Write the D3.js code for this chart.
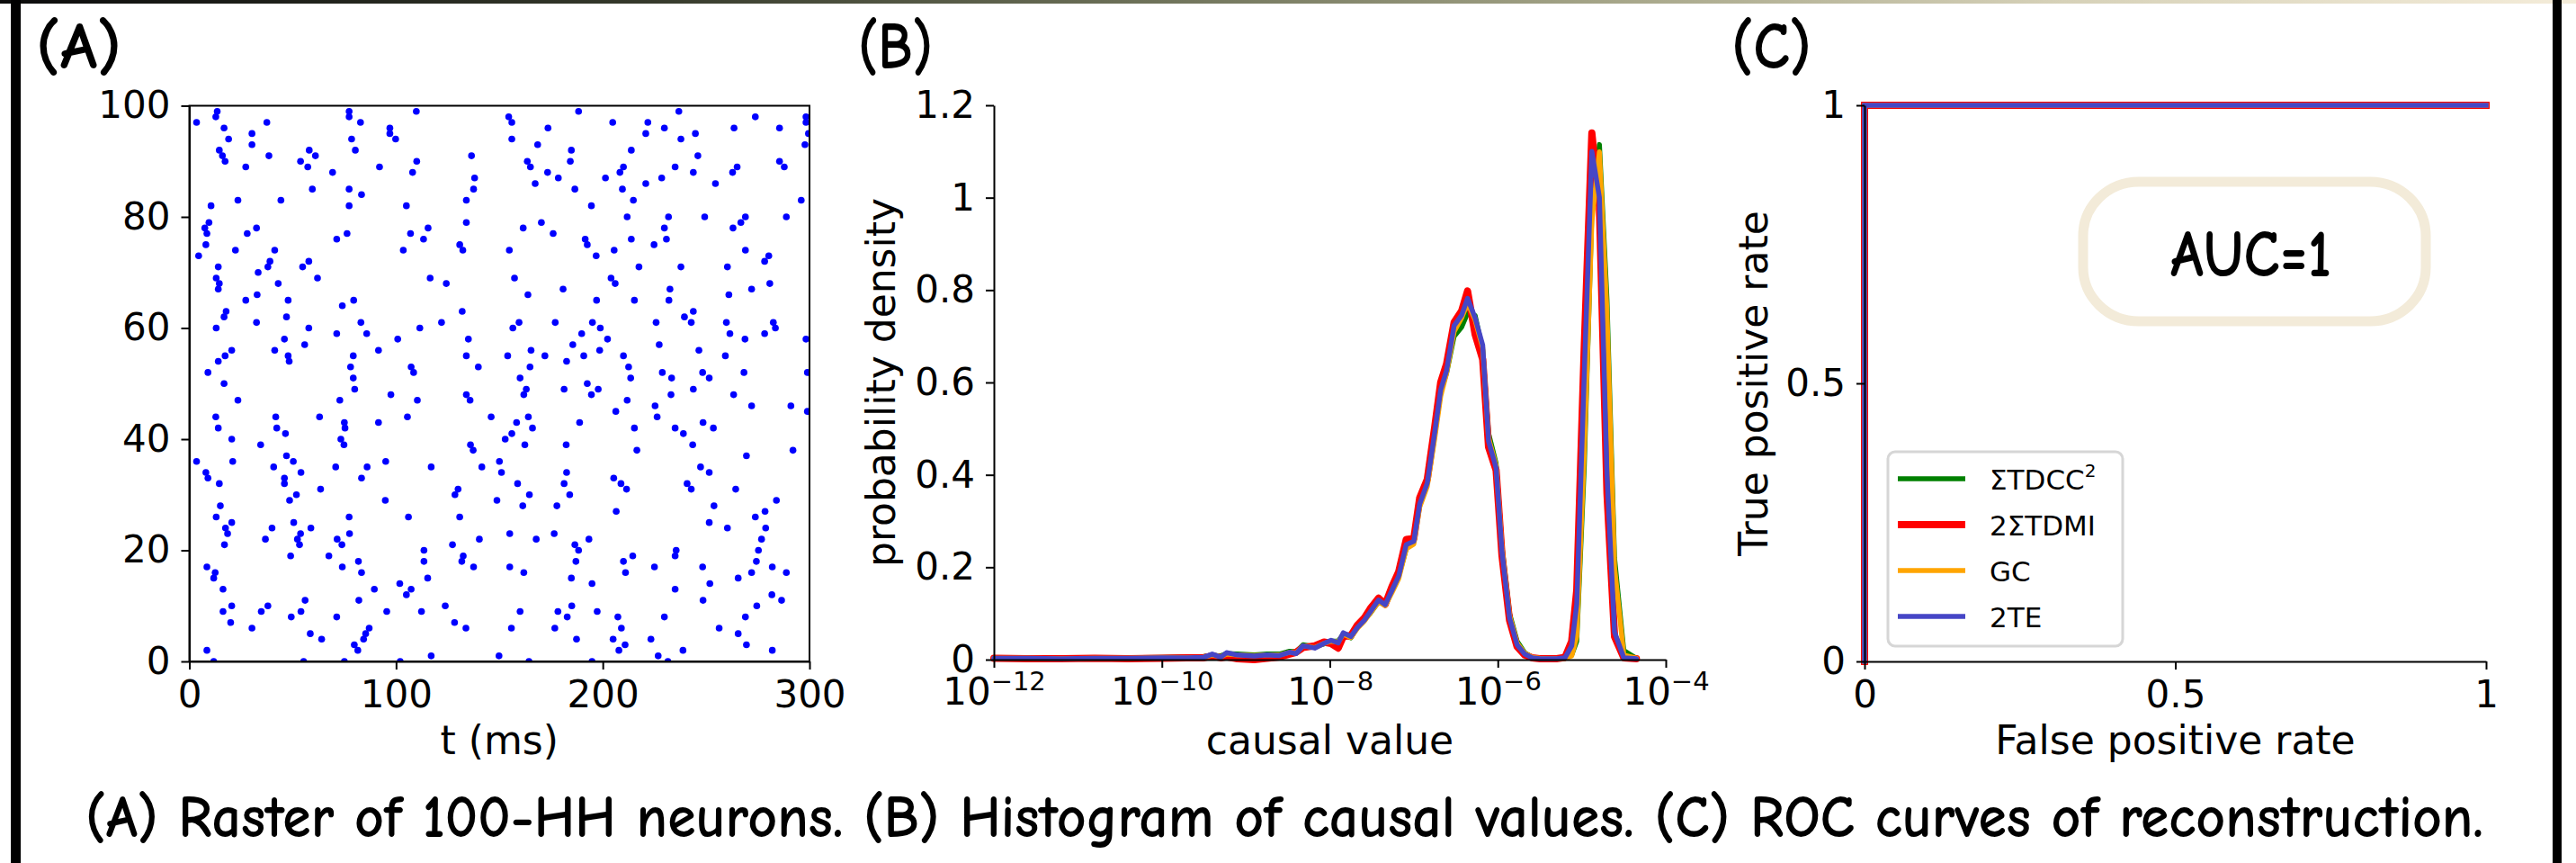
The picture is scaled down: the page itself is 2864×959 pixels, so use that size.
<!DOCTYPE html>
<html>
<head>
<meta charset="utf-8">
<script src="https://cdn.jsdelivr.net/npm/d3@7"></script>
<style>
  html, body { margin: 0; padding: 0; background: #fff; }
  svg { display: block; }
  .tick text { font-family: "DejaVu Sans", sans-serif; font-size: 42px; fill: #000; }
  .tick line { stroke: #000; stroke-width: 2; }
  .domain { stroke: #000; stroke-width: 2; }
  .lbl { font-family: "DejaVu Sans", sans-serif; font-size: 44px; fill: #000; }
  .comic { font-family: "Comic Sans MS", "Comic Neue", "Noto Sans", sans-serif; font-weight: 700; fill: #000; }
</style>
</head>
<body>
<svg id="fig" width="2864" height="959"></svg>
<script>
// ---- dados ----
// (A) tempos de disparo (ms) por neurônio 0..99
const spikeTimes = [
  [11.8, 55.3, 75, 102, 164.3, 194.8, 231.5],
  [117, 149.8, 226.8],
  [8.5, 81.5, 207.8, 238.8, 282],
  [79.8, 210.8, 269.5],
  [64, 84.3, 187.3, 205, 223.3],
  [58.5, 85.3, 265.5],
  [30.3, 87, 133.8, 155.8, 176.8, 209, 256.3],
  [20, 128.3],
  [49.3, 71.3, 182.8, 207.3, 229.8, 269],
  [16.3, 34.8, 54, 95.5, 112.3, 160, 178.3, 197.3],
  [20.5, 38, 123.8, 185, 274.5],
  [56, 82, 248.5, 286.5],
  [105, 281.8],
  [16.3, 89.5, 107.3, 235],
  [101.8, 194.8, 251.8],
  [11.8, 115.3, 184.8, 265.5],
  [12.5, 83.3, 161.8, 211, 272, 288.8],
  [8.5, 74, 137.5, 155, 225, 248.3, 282],
  [81.8, 113.5, 131.8, 187, 210, 274.3],
  [49, 67.5, 132.5, 214.5, 235],
  [113.5, 188.3, 235.5, 275.3],
  [17, 53.3, 73.8, 127.3, 186.5],
  [36.8, 52.3, 71.5, 140.3, 167.8, 193.3, 276.8],
  [18.5, 53.8, 77.5, 155, 176.5],
  [17.5, 40, 58.8, 260.3, 278.8],
  [20.5, 50.5, 251.5],
  [13, 77.3, 106, 130.8, 273.8],
  [206.5, 278.5],
  [15, 161.3, 177.8, 253.8],
  [48.5, 94.8, 148.8, 284],
  [51.8, 128.5, 164.5, 184],
  [63.5, 130, 211.5, 242.8, 264.3],
  [14.5, 46, 158.8, 181.3, 208.8, 240.8],
  [9, 46, 83.3, 205.3],
  [8, 54, 151, 182.5, 251.5],
  [40.8, 70.8, 86, 117, 141.5, 247.3],
  [3.5, 21, 50.3, 95, 150],
  [47, 269.5],
  [137.3, 216.5, 292],
  [34.5, 74.8, 136, 162.3, 182.3, 243.5],
  [20.5, 73.3, 152.8],
  [46.5, 156, 239],
  [14, 42.3, 75.3, 166, 215.3, 235, 253.5],
  [75, 91.5, 158.3, 188.8, 248.5],
  [12.8, 41.8, 63, 105.5, 146, 164, 226.3],
  [206.3, 299],
  [225.3, 272, 291],
  [23.5, 72.8, 110.3, 135.8, 211.8],
  [97.5, 134, 161.8, 194.5, 233, 263.3],
  [80, 163, 181.3, 197.8, 243.8],
  [16.8, 192.5],
  [79.3, 160, 213.5, 233.3, 251.5],
  [9, 108.5, 228.8, 248.3, 268.3, 299],
  [78, 107.3, 139.8, 164.8, 212.5],
  [14, 48.3, 182.5],
  [17.3, 47.8, 79.3, 134, 154, 172, 190.8, 210, 259.3],
  [20.5, 41.3, 91.5, 165.3, 198.5, 246.5],
  [55.8, 185.5, 227.3],
  [46, 100.8, 135, 202.3, 268.8, 298.3],
  [71.3, 85.8, 189.8, 261.5, 278.3],
  [13, 57.8, 111.5, 156.5, 198.8, 283.5],
  [32.5, 83, 122, 159.5, 177, 195, 225.8, 242.8, 259.8, 282.5],
  [16.8, 47, 239.5],
  [17.8, 132, 243.8],
  [74],
  [27.3, 47.8, 79.5, 197, 215.3, 232],
  [32.8, 163.8, 261],
  [14, 180.8, 232.5, 272],
  [14.5, 43, 124.3, 206, 280.8],
  [13, 62, 116.5, 157.3, 204],
  [33.3],
  [14, 38, 54.8, 217.5, 237.8, 260.3],
  [39, 57.8, 278.3],
  [4.5, 196.8, 280.3],
  [22.3, 41.3, 103.5, 132.3, 154.8, 205.5, 269],
  [8, 130.8, 192.5, 224.8],
  [71.3, 113.3, 191.5, 213.8, 230.8],
  [8.5, 28, 76.3, 107, 176],
  [7.5, 32.5, 115.5, 161.5, 229.8, 263],
  [9.5, 134, 170.3, 266.8],
  [211.8, 231.8, 249.3, 269, 288.8],
  [],
  [10.5, 77.3, 105, 194.5],
  [23.5, 44.3, 134, 214.8, 296],
  [83.3],
  [59.5, 77.3, 137.5, 186.5, 209.5],
  [167.3, 220.8, 254.5],
  [138, 178.5, 201.3, 228.5],
  [69.3, 108, 173.3, 208.3, 243.8, 262.8],
  [27.3, 57.3, 92, 165, 210, 235, 265, 287.8],
  [17.3, 53.8, 110, 163.5, 184.3, 285.5],
  [16, 38.5, 61, 136.5, 246],
  [14.5, 58, 80.3, 184.8, 213.8],
  [30.3, 168.5, 297.8],
  [19, 78.5, 99.8, 156, 237.8],
  [30.3, 97, 220.8, 244.8, 299.5],
  [16.8, 97, 173.5, 229.8, 263.5, 285.5],
  [3.5, 37.5, 82.8, 156, 204.8, 221.8, 298.3],
  [12.8, 77.3, 154.5, 273.8, 298.3],
  [13.5, 77.3, 109.8, 188.3, 236.8]
];
const rasterTicksX = [0, 100, 200, 300];
const rasterTicksY = [0, 20, 40, 60, 80, 100];

// (B) histogramas: posição dos bins em log10 e densidades
const binLog10 = [-12.0, -11.6, -11.2, -10.8, -10.4, -10.0, -9.7, -9.5, -9.4, -9.3, -9.23, -9.1, -8.9, -8.75, -8.6, -8.48, -8.4, -8.32, -8.18, -8.07, -7.985, -7.9, -7.84, -7.75, -7.67, -7.59, -7.52, -7.42, -7.34, -7.26, -7.18, -7.09, -7.0, -6.93, -6.84, -6.75, -6.68, -6.61, -6.52, -6.43, -6.36, -6.27, -6.18, -6.11, -6.02, -5.95, -5.86, -5.77, -5.68, -5.59, -5.5, -5.4, -5.3, -5.2, -5.12, -5.06, -4.97, -4.88, -4.79, -4.70, -4.61, -4.5, -4.35];
const densTDCC = [0.004, 0.004, 0.003, 0.004, 0.004, 0.005, 0.006, 0.007, 0.01, 0.008, 0.013, 0.012, 0.01, 0.012, 0.012, 0.018, 0.017, 0.032, 0.028, 0.034, 0.04, 0.04, 0.055, 0.047, 0.072, 0.088, 0.1, 0.125, 0.118, 0.155, 0.18, 0.24, 0.258, 0.335, 0.385, 0.49, 0.58, 0.62, 0.7, 0.72, 0.75, 0.745, 0.67, 0.49, 0.425, 0.245, 0.1, 0.04, 0.015, 0.005, 0.003, 0.002, 0.002, 0.003, 0.01, 0.04, 0.42, 0.97, 1.115, 0.78, 0.22, 0.02, 0.003];
const densTDMI = [0.003, 0.002, 0.002, 0.003, 0.002, 0.003, 0.004, 0.004, 0.008, 0.004, 0.006, 0.002, 0.0, 0.003, 0.006, 0.012, 0.016, 0.026, 0.03, 0.038, 0.035, 0.025, 0.05, 0.052, 0.075, 0.09, 0.11, 0.133, 0.12, 0.158, 0.19, 0.26, 0.262, 0.35, 0.39, 0.505, 0.6, 0.64, 0.73, 0.755, 0.798, 0.704, 0.65, 0.46, 0.41, 0.225, 0.085, 0.028, 0.01, 0.004, 0.002, 0.002, 0.002, 0.005, 0.04, 0.15, 0.68, 1.14, 0.98, 0.36, 0.05, 0.004, 0.002];
const densGC = [0.003, 0.003, 0.002, 0.003, 0.003, 0.004, 0.004, 0.005, 0.01, 0.006, 0.012, 0.01, 0.009, 0.01, 0.01, 0.016, 0.014, 0.03, 0.026, 0.035, 0.04, 0.038, 0.055, 0.048, 0.068, 0.083, 0.1, 0.125, 0.117, 0.145, 0.175, 0.24, 0.25, 0.33, 0.375, 0.48, 0.57, 0.62, 0.71, 0.74, 0.772, 0.735, 0.675, 0.48, 0.42, 0.24, 0.095, 0.036, 0.014, 0.005, 0.003, 0.002, 0.002, 0.003, 0.008, 0.05, 0.45, 0.95, 1.099, 0.75, 0.2, 0.01, 0.003];
const dens2TE = [0.003, 0.003, 0.002, 0.003, 0.003, 0.004, 0.004, 0.005, 0.012, 0.005, 0.015, 0.01, 0.008, 0.01, 0.009, 0.016, 0.013, 0.03, 0.025, 0.035, 0.042, 0.036, 0.058, 0.05, 0.07, 0.085, 0.103, 0.129, 0.119, 0.15, 0.181, 0.249, 0.256, 0.337, 0.382, 0.493, 0.584, 0.626, 0.723, 0.746, 0.782, 0.74, 0.681, 0.473, 0.415, 0.233, 0.09, 0.032, 0.012, 0.004, 0.002, 0.002, 0.002, 0.004, 0.03, 0.12, 0.62, 1.10, 1.0, 0.40, 0.06, 0.004, 0.002];
const densTicksY = [0, 0.2, 0.4, 0.6, 0.8, 1, 1.2];
const densTicksExp = [-12, -10, -8, -6, -4];

// (C) curvas ROC
const rocFPR = [0, 0, 1];
const rocTPR = [0, 1, 1];
const rocTicks = [0, 0.5, 1];

const methods = [
  { name: "ΣTDCC", sup: "2", color: "#008000", width: 5.5, dens: densTDCC },
  { name: "2ΣTDMI", sup: "", color: "#ff0000", width: 8, dens: densTDMI },
  { name: "GC", sup: "", color: "#ffa500", width: 5.5, dens: densGC },
  { name: "2TE", sup: "", color: "#4646c6", width: 5.5, dens: dens2TE }
];

const svg = d3.select("#fig");
const fmt = d => d3.format("~g")(d);

// ---- moldura da página ----
const grad = svg.append("defs").append("linearGradient").attr("id", "topbar");
[["0%", "#0c0c0c"], ["25%", "#35392b"], ["45%", "#6f735a"], ["62%", "#a4a487"], ["80%", "#d6d1b8"], ["100%", "#f4ecd9"]]
  .forEach(([o, c]) => grad.append("stop").attr("offset", o).attr("stop-color", c));
svg.append("rect").attr("x", 0).attr("y", 0).attr("width", 2864).attr("height", 4).attr("fill", "url(#topbar)");
svg.append("rect").attr("x", 12).attr("y", 0).attr("width", 11).attr("height", 959).attr("fill", "#000");
svg.append("rect").attr("x", 2838).attr("y", 0).attr("width", 10).attr("height", 959).attr("fill", "#000");

// ---- (A) raster ----
const xA = d3.scaleLinear().domain([0, 300]).range([210.5, 900]);
const yA = d3.scaleLinear().domain([0, 100]).range([735, 117.5]);
svg.append("clipPath").attr("id", "clipA").append("rect")
  .attr("x", xA(0)).attr("y", yA(100)).attr("width", xA(300) - xA(0)).attr("height", yA(0) - yA(100));

const spikes = spikeTimes.flatMap((ts, n) => ts.map(t => ({ n, t })));
svg.append("g").attr("clip-path", "url(#clipA)")
  .selectAll("circle").data(spikes).join("circle")
  .attr("cx", d => xA(d.t)).attr("cy", d => yA(d.n)).attr("r", 3.8).attr("fill", "#0000ff");

svg.append("g").attr("transform", `translate(0,${yA(0)})`)
  .call(d3.axisBottom(xA).tickValues(rasterTicksX).tickSize(9).tickSizeOuter(0).tickPadding(12).tickFormat(fmt));
svg.append("g").attr("transform", `translate(${xA(0)},0)`)
  .call(d3.axisLeft(yA).tickValues(rasterTicksY).tickSize(9).tickSizeOuter(0).tickPadding(12).tickFormat(fmt));
svg.append("rect").attr("x", xA(0)).attr("y", yA(100)).attr("width", xA(300) - xA(0)).attr("height", yA(0) - yA(100))
  .attr("fill", "none").attr("stroke", "#000").attr("stroke-width", 2);
svg.append("text").attr("class", "lbl").attr("x", (xA(0) + xA(300)) / 2).attr("y", 838)
  .attr("text-anchor", "middle").text("t (ms)");

// ---- (B) histograma ----
const xB = d3.scaleLog().domain([1e-12, 1e-4]).range([1105, 1852]);
const yB = d3.scaleLinear().domain([0, 1.2]).range([733, 117]);
const lineB = d3.line().x(d => xB(Math.pow(10, d[0]))).y(d => yB(d[1]));
methods.forEach(m => {
  svg.append("path").datum(binLog10.map((lx, i) => [lx, m.dens[i]]))
    .attr("d", lineB).attr("fill", "none").attr("stroke", m.color)
    .attr("stroke-width", m.width).attr("stroke-linejoin", "round").attr("stroke-linecap", "round");
});
const axBx = svg.append("g").attr("transform", `translate(0,${yB(0)})`)
  .call(d3.axisBottom(xB).tickValues(densTicksExp.map(e => Math.pow(10, e))).tickSize(9).tickSizeOuter(0).tickFormat(""));
axBx.selectAll(".tick").each(function (d, i) {
  const t = d3.select(this).append("text").attr("y", 50).attr("text-anchor", "middle");
  t.append("tspan").text("10");
  t.append("tspan").attr("font-size", "29px").attr("dy", -16).text("−" + Math.abs(densTicksExp[i]));
});
svg.append("g").attr("transform", `translate(${xB(1e-12)},0)`)
  .call(d3.axisLeft(yB).tickValues(densTicksY).tickSize(9).tickSizeOuter(0).tickPadding(12).tickFormat(fmt));
svg.append("text").attr("class", "lbl").attr("x", (1105 + 1852) / 2).attr("y", 838)
  .attr("text-anchor", "middle").text("causal value");
svg.append("text").attr("class", "lbl").attr("transform", `translate(995,${(yB(0) + yB(1.2)) / 2}) rotate(-90)`)
  .attr("text-anchor", "middle").text("probability density");

// ---- (C) ROC ----
const xC = d3.scaleLinear().domain([0, 1]).range([2073, 2764]);
const yC = d3.scaleLinear().domain([0, 1]).range([735, 117]);
const lineC = d3.line().x((d, i) => xC(rocFPR[i])).y((d, i) => yC(rocTPR[i]));
methods.forEach(m => {
  svg.append("path").datum(rocFPR).attr("d", lineC).attr("fill", "none")
    .attr("stroke", m.color).attr("stroke-width", m.width).attr("stroke-linecap", "square");
});
svg.append("g").attr("transform", `translate(0,${yC(0)})`)
  .call(d3.axisBottom(xC).tickValues(rocTicks).tickSize(9).tickSizeOuter(0).tickPadding(12).tickFormat(fmt));
svg.append("g").attr("transform", `translate(${xC(0)},0)`)
  .call(d3.axisLeft(yC).tickValues(rocTicks).tickSize(9).tickSizeOuter(0).tickPadding(12).tickFormat(fmt));
svg.append("text").attr("class", "lbl").attr("x", (xC(0) + xC(1)) / 2).attr("y", 838)
  .attr("text-anchor", "middle").text("False positive rate");
svg.append("text").attr("class", "lbl").attr("transform", `translate(1965,${(yC(0) + yC(1)) / 2}) rotate(-90)`)
  .attr("text-anchor", "middle").text("True positive rate");

// caixa AUC
svg.append("rect").attr("x", 2316).attr("y", 202).attr("width", 381).attr("height", 155)
  .attr("rx", 62).attr("ry", 60).attr("fill", "#fff").attr("stroke", "#f3ebd9").attr("stroke-width", 11);
svg.append("text").attr("class", "comic").attr("x", 2413).attr("y", 307)
  .attr("font-size", 74).attr("textLength", 179).attr("lengthAdjust", "spacingAndGlyphs").text("AUC=1");

// legenda
const leg = svg.append("g");
leg.append("rect").attr("x", 2099).attr("y", 502).attr("width", 261).attr("height", 216)
  .attr("rx", 8).attr("fill", "#fff").attr("fill-opacity", 0.8).attr("stroke", "#d6d6d6").attr("stroke-width", 3);
methods.forEach((m, i) => {
  const y = 532 + i * 51;
  leg.append("line").attr("x1", 2110).attr("x2", 2185).attr("y1", y).attr("y2", y)
    .attr("stroke", m.color).attr("stroke-width", m.width);
  const t = leg.append("text").attr("x", 2212).attr("y", y + 12)
    .attr("font-family", "DejaVu Sans, sans-serif").attr("font-size", 31).text(m.name);
  if (m.sup) t.append("tspan").attr("font-size", 20).attr("dy", -14).text(m.sup);
});

// ---- rótulos dos painéis e legenda da figura ----
[["(A)", 40, 95], ["(B)", 954, 83], ["(C)", 1925, 89]].forEach(([s, x, w]) => {
  svg.append("text").attr("class", "comic").attr("x", x).attr("y", 76).attr("font-size", 74)
    .attr("textLength", w).attr("lengthAdjust", "spacingAndGlyphs").text(s);
});
svg.append("text").attr("class", "comic").attr("x", 95).attr("y", 930).attr("font-size", 66)
  .attr("textLength", 2666).attr("lengthAdjust", "spacingAndGlyphs")
  .text("(A) Raster of 100-HH neurons. (B) Histogram of causal values. (C) ROC curves of reconstruction.");
</script>
</body>
</html>
